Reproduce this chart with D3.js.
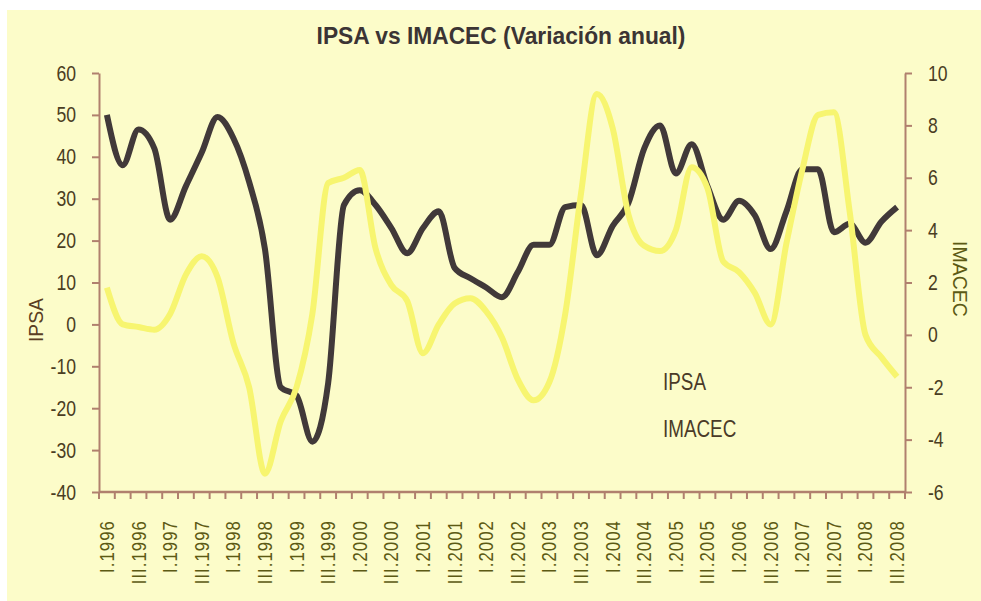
<!DOCTYPE html>
<html>
<head>
<meta charset="utf-8">
<script src="https://cdn.jsdelivr.net/npm/d3@7"></script>
<style>
  body { margin: 0; background: #fff; }
  text { font-family: "Liberation Sans", Arial, sans-serif; }
</style>
</head>
<body>
<div id="chart"></div>
<script>
// quarters shown on the x axis, I.1996 .. III.2008
const years = d3.range(1996, 2009);
const romans = ["I", "II", "III", "IV"];
const quarters = years.flatMap(y => romans.map(r => `${r}.${y}`)).slice(0, 51);

// annual variation, %
const ipsa = [50, 38, 46.5, 42, 25, 33, 41, 49.5, 44.5, 34,
              18, -15, -17, -28, -14, 28.5, 32, 28.5, 23, 17,
              23, 27, 13.5, 11, 8.8, 6.5, 12.5, 19, 19, 28,
              28.5, 16.5, 23.5, 29, 42, 47.5, 36, 43, 33, 25,
              29.5, 26, 18, 27, 37, 37, 22, 24, 19.5, 24.5, 28];
const imacec = [1.8, 0.4, 0.3, 0.2, 0.8, 2.3, 3.0, 2.2, -0.3, -2.0,
                -5.3, -3.3, -2.0, 0.8, 5.8, 6.0, 6.3, 3.3, 1.9, 1.3,
                -0.7, 0.4, 1.2, 1.4, 0.9, -0.1, -1.7, -2.5, -1.8, 0.8,
                5.4, 9.2, 7.9, 4.6, 3.4, 3.2, 4.0, 6.4, 5.6, 2.8,
                2.4, 1.6, 0.4, 3.5, 6.3, 8.4, 8.5, 4.7, 0.0, -0.85, -1.6];

const leftTicks = d3.range(-40, 61, 10);
const rightTicks = d3.range(-6, 11, 2);

const width = 981, height = 601;
const axisColor = "#b0806e", tickText = "#4a3d22", xText = "#5c5a14";
// the printed font is a condensed face: squeeze Liberation Sans horizontally
const narrow = 0.8;

const svg = d3.select("#chart").append("svg")
  .attr("width", width)
  .attr("height", height);

// paper background
svg.append("rect")
  .attr("x", 7).attr("y", 10)
  .attr("width", width - 7).attr("height", height - 10)
  .attr("fill", "#fcfcc9");

const x = d3.scaleBand().domain(quarters).range([99, 905]);
const yL = d3.scaleLinear().domain([-40, 60]).range([492, 73]);
const yR = d3.scaleLinear().domain([-6, 10]).range([492, 73]);

// title
svg.append("text")
  .attr("transform", "translate(501,44) scale(0.97,1)")
  .attr("text-anchor", "middle")
  .attr("font-size", 23.5).attr("font-weight", "bold")
  .attr("fill", "#3b3434")
  .text("IPSA vs IMACEC (Variación anual)");

// lines (IPSA below, IMACEC on top)
const line = (scale) => d3.line()
  .x((d, i) => x(quarters[i]) + x.bandwidth() / 2)
  .y(d => scale(d))
  .curve(d3.curveMonotoneX);

svg.append("path")
  .datum(ipsa)
  .attr("fill", "none")
  .attr("stroke", "#413939")
  .attr("stroke-width", 6)
  .attr("d", line(yL));

svg.append("path")
  .datum(imacec)
  .attr("fill", "none")
  .attr("stroke", "#f7f570")
  .attr("stroke-width", 6)
  .attr("d", line(yR));

// left and right axes
const gL = svg.append("g").attr("transform", "translate(99,0)")
  .call(d3.axisLeft(yL).tickValues(leftTicks).tickFormat(d => String(d))
    .tickSize(7).tickSizeOuter(0));
const gR = svg.append("g").attr("transform", "translate(905,0)")
  .call(d3.axisRight(yR).tickValues(rightTicks).tickFormat(d => String(d))
    .tickSize(7).tickSizeOuter(0));
[[gL, -23], [gR, 23]].forEach(([g, dx]) => {
  g.select(".domain").attr("stroke", axisColor).attr("stroke-width", 2);
  g.selectAll(".tick line").attr("stroke", axisColor).attr("stroke-width", 2);
  g.selectAll(".tick text")
    .attr("x", 0)
    .attr("transform", `translate(${dx},0) scale(${narrow},1)`)
    .attr("font-size", 22)
    .attr("fill", tickText)
    .attr("font-family", null);
});

// bottom axis: ticks at every quarter edge, labels every second quarter
svg.append("line")
  .attr("x1", 99).attr("x2", 905).attr("y1", 492).attr("y2", 492)
  .attr("stroke", axisColor).attr("stroke-width", 2.5);
svg.append("g")
  .selectAll("line")
  .data(quarters.concat(["end"]))
  .join("line")
  .attr("x1", (d, i) => 99 + i * x.step())
  .attr("x2", (d, i) => 99 + i * x.step())
  .attr("y1", 492).attr("y2", 499)
  .attr("stroke", axisColor).attr("stroke-width", 2);

svg.append("g")
  .selectAll("text")
  .data(quarters.filter((d, i) => i % 2 === 0))
  .join("text")
  .attr("transform", d => `translate(${x(d) + x.bandwidth() / 2 + 7},520) rotate(-90) scale(${narrow},1)`)
  .attr("text-anchor", "end")
  .attr("font-size", 21)
  .attr("letter-spacing", 1.3)
  .attr("fill", xText)
  .text(d => d);

// axis titles
svg.append("text")
  .attr("transform", "translate(43,320) rotate(-90) scale(0.92,1)")
  .attr("text-anchor", "middle")
  .attr("font-size", 21)
  .attr("fill", "#5a3e22")
  .text("IPSA");
svg.append("text")
  .attr("transform", "translate(953,279) rotate(90) scale(0.93,1)")
  .attr("text-anchor", "middle")
  .attr("font-size", 21)
  .attr("fill", "#5c5a14")
  .text("IMACEC");

// legend labels
svg.append("g")
  .selectAll("text")
  .data(["IPSA", "IMACEC"])
  .join("text")
  .attr("transform", (d, i) => `translate(663,${390 + i * 47}) scale(0.82,1)`)
  .attr("font-size", 23)
  .attr("fill", "#4a3a28")
  .text(d => d);
</script>
</body>
</html>
